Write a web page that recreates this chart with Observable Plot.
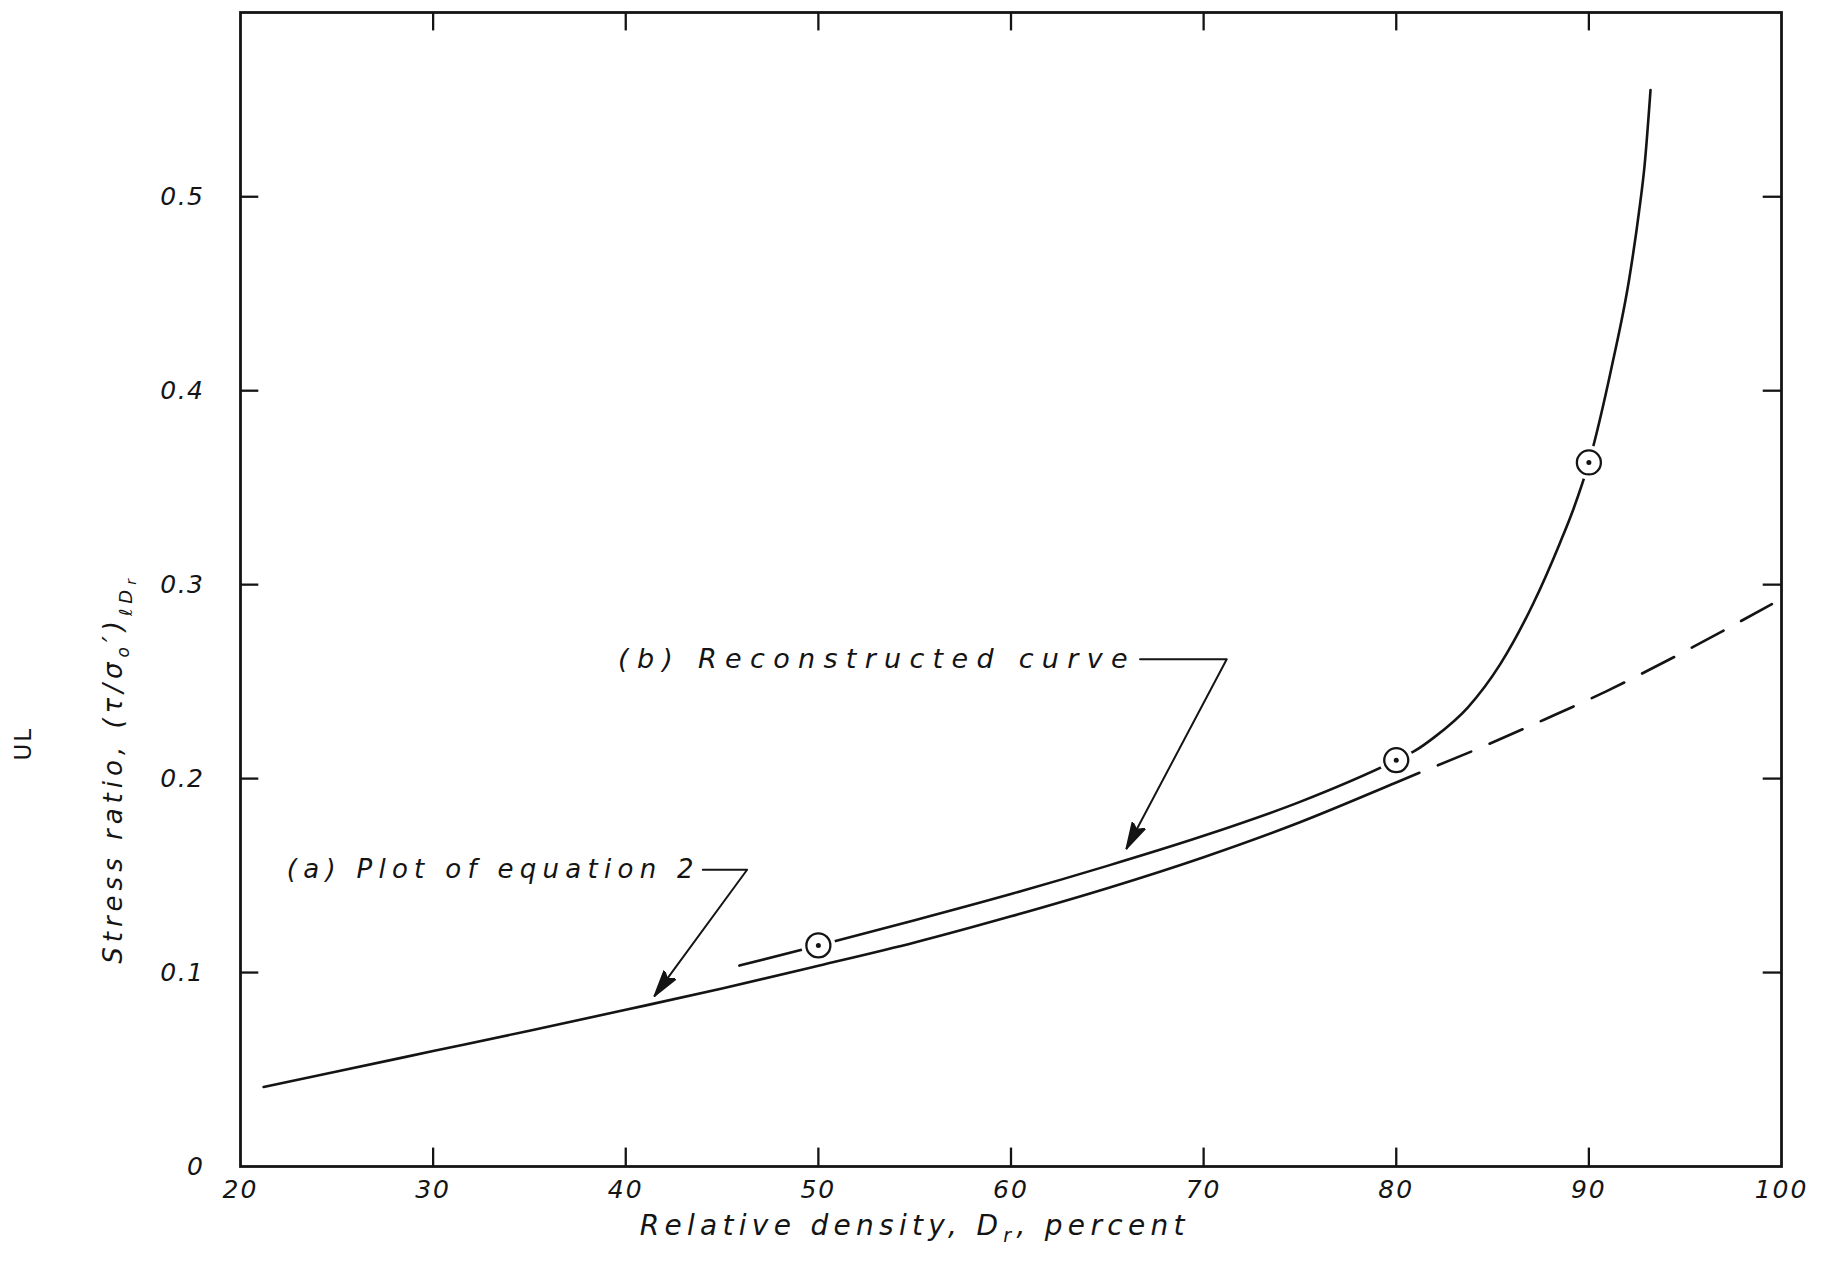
<!DOCTYPE html>
<html><head><meta charset="utf-8">
<script src="https://cdn.jsdelivr.net/npm/d3@7"></script>
<script src="https://cdn.jsdelivr.net/npm/@observablehq/plot@0.6"></script>
<style>
html,body{margin:0;padding:0;background:#fff;}
#chart svg{display:block;}
</style></head><body><div id="chart"></div>
<script>
// ---- axes ----
const xTicks = [20, 30, 40, 50, 60, 70, 80, 90, 100];
const xTickLabels = ["20", "30", "40", "50", "60", "70", "80", "90", "100"];
const yTicks = [0, 0.1, 0.2, 0.3, 0.4, 0.5];
const yTickLabels = ["0", "0.1", "0.2", "0.3", "0.4", "0.5"];
const xDomain = [20, 100];
const yDomain = [0, 0.595];

// ---- (a) Plot of equation 2 : solid part and dashed extension ----
const drA = [21.2, 25, 30, 35, 40, 45, 50, 55, 60, 65, 70, 75, 80, 81.2];
const srA = [0.041, 0.049, 0.0595, 0.070, 0.0808, 0.0918, 0.1035, 0.1155, 0.129, 0.1435, 0.1595, 0.1775, 0.198, 0.203];
const drAExt = [81.2, 84.5, 87.7, 90.9, 94.0, 99.5];
const srAExt = [0.203, 0.2165, 0.2305, 0.245, 0.2605, 0.290];

// ---- (b) Reconstructed curve ----
const drB = [45.9, 50, 55, 60, 65, 70, 75, 80, 81, 82, 83.7, 85.4, 87.1, 88.5, 89.2, 90, 91.2, 92.1, 92.6, 92.9, 93.2];
const srB = [0.1036, 0.114, 0.127, 0.1405, 0.155, 0.1705, 0.188, 0.2095, 0.2145, 0.2215, 0.2365, 0.259, 0.290, 0.3215, 0.339, 0.363, 0.413, 0.458, 0.492, 0.517, 0.555];

// ---- test points (circled) ----
const ptDr = [50, 80, 90];
const ptSr = [0.114, 0.2095, 0.363];

// ---- annotations ----
const annoText = ["(b) Reconstructed curve", "(a) Plot of equation 2"];
const annoDr = [39.6, 22.4];
const annoSr = [0.2615, 0.153];
const leaderBDr = [66.7, 71.2, 66.0];
const leaderBSr = [0.2615, 0.2615, 0.164];
const leaderADr = [44.0, 46.3, 41.5];
const leaderASr = [0.153, 0.153, 0.088];

const xTitle = "Relative density, Dr, percent";
const yTitle = "Stress ratio, (τ/σo′)ℓDr";
const sideNote = "UL";

// ---- build tables ----
const toRows = (xs, ys) => xs.map((x, i) => ({x, y: ys[i]}));
const curveA = toRows(drA, srA);
const curveAExt = toRows(drAExt, srAExt);
const curveB = toRows(drB, srB);
const points = toRows(ptDr, ptSr);
const annos = annoText.map((t, i) => ({t, x: annoDr[i], y: annoSr[i]}));
const leaderB = toRows(leaderBDr, leaderBSr);
const leaderA = toRows(leaderADr, leaderASr);

const ink = "#141414";
const tickLenX = 0.95;   // in Dr units
const tickLenY = 0.0095; // in stress-ratio units

function arrowFill(color, context) {
  const doc = (context && context.document) || document;
  const svgns = "http://www.w3.org/2000/svg";
  const m = doc.createElementNS(svgns, "marker");
  m.setAttribute("viewBox", "-26 -8 28 16");
  m.setAttribute("markerUnits", "userSpaceOnUse");
  m.setAttribute("markerWidth", 28);
  m.setAttribute("markerHeight", 16);
  m.setAttribute("refX", 0);
  m.setAttribute("refY", 0);
  m.setAttribute("orient", "auto");
  const p = doc.createElementNS(svgns, "path");
  p.setAttribute("d", "M0,0L-26,-7L-21,0L-26,7Z");
  p.setAttribute("fill", color);
  m.appendChild(p);
  return m;
}

const font = "DejaVu Sans";

const chart = Plot.plot({
  width: 1828,
  height: 1277,
  marginLeft: 240,
  marginRight: 47,
  marginTop: 12,
  marginBottom: 111,
  x: {domain: xDomain, axis: null},
  y: {domain: yDomain, axis: null},
  style: {fontFamily: font, fontStyle: "oblique", color: ink, background: "white"},
  marks: [
    // inward ticks
    Plot.ruleX(xTicks.slice(1, -1), {y1: yDomain[0], y2: yDomain[0] + tickLenY, stroke: ink, strokeWidth: 2.3}),
    Plot.ruleX(xTicks.slice(1, -1), {y1: yDomain[1] - tickLenY, y2: yDomain[1], stroke: ink, strokeWidth: 2.3}),
    Plot.ruleY(yTicks.slice(1), {x1: xDomain[0], x2: xDomain[0] + tickLenX, stroke: ink, strokeWidth: 2.3}),
    Plot.ruleY(yTicks.slice(1), {x1: xDomain[1] - tickLenX, x2: xDomain[1], stroke: ink, strokeWidth: 2.3}),
    Plot.frame({stroke: ink, strokeWidth: 2.8}),
    Plot.axisX({ticks: xTicks, tickFormat: d => xTickLabels[xTicks.indexOf(d)], tickSize: 0, tickPadding: 14, fontSize: 25, label: null}),
    Plot.axisY({ticks: yTicks, tickFormat: d => yTickLabels[yTicks.indexOf(d)], tickSize: 0, tickPadding: 36, fontSize: 25, label: null}),

    // curves
    Plot.line(curveA, {x: "x", y: "y", curve: "monotone-x", stroke: ink, strokeWidth: 2.6}),
    Plot.line(curveAExt, {x: "x", y: "y", curve: "monotone-x", stroke: ink, strokeWidth: 2.6, strokeDasharray: "36,20", strokeDashoffset: 36}),
    Plot.line(curveB, {x: "x", y: "y", curve: "monotone-x", stroke: ink, strokeWidth: 2.6}),

    // circled points
    Plot.dot(points, {x: "x", y: "y", r: 17, fill: "white", stroke: null}),
    Plot.dot(points, {x: "x", y: "y", r: 12, fill: "white", stroke: ink, strokeWidth: 2.3}),
    Plot.dot(points, {x: "x", y: "y", r: 2.5, fill: ink, stroke: null}),

    // annotation leaders
    Plot.line(leaderB, {x: "x", y: "y", stroke: ink, strokeWidth: 2, markerEnd: arrowFill}),
    Plot.line(leaderA, {x: "x", y: "y", stroke: ink, strokeWidth: 2, markerEnd: arrowFill}),

    // annotation texts
    Plot.text(annos.slice(0, 1), {x: "x", y: "y", text: "t", textAnchor: "start", fontSize: 27, fill: ink}),
    Plot.text(annos.slice(1), {x: "x", y: "y", text: "t", textAnchor: "start", fontSize: 26, fill: ink}),

    // axis titles
    Plot.text([xTitle], {x: [55], frameAnchor: "bottom", dy: 68, text: d => d, textAnchor: "middle", fontSize: 28, fill: ink}),
    Plot.text([yTitle], {y: [0.205], frameAnchor: "left", dx: -127, rotate: -90, text: d => d, textAnchor: "middle", lineAnchor: "middle", fontSize: 26, fill: ink}),
    Plot.text([sideNote], {y: [0.218], frameAnchor: "left", dx: -217, rotate: -90, text: d => d, textAnchor: "middle", lineAnchor: "middle", fontSize: 23, fontStyle: "normal", fill: ink})
  ]
});

document.getElementById("chart").appendChild(chart);

// ---- post-processing: hand-lettering spacing and subscripts ----
const allText = Array.from(chart.querySelectorAll("text"));
const findText = s => allText.find(t => t.textContent === s);
function spaceOut(el, px) { if (el) el.style.letterSpacing = px + "px"; }

chart.querySelectorAll('g[aria-label="x-axis tick label"] text').forEach(t => spaceOut(t, 2));
chart.querySelectorAll('g[aria-label="y-axis tick label"] text').forEach(t => spaceOut(t, 1.5));
spaceOut(findText(annoText[0]), 8.3);
spaceOut(findText(annoText[1]), 6.3);
spaceOut(findText(sideNote), 2);

const svgNS = "http://www.w3.org/2000/svg";
function rebuild(textEl, parts) {
  if (!textEl) return;
  textEl.textContent = "";
  for (const p of parts) {
    const ts = document.createElementNS(svgNS, "tspan");
    ts.textContent = p.t;
    if (p.size) ts.setAttribute("font-size", p.size);
    if (p.dy) ts.setAttribute("dy", p.dy);
    textEl.appendChild(ts);
  }
}
const xt = findText(xTitle);
spaceOut(xt, 5.3);
rebuild(xt, [
  {t: "Relative density, D"},
  {t: "r", size: 19, dy: 7},
  {t: ", percent", dy: -7}
]);
const yt = findText(yTitle);
spaceOut(yt, 5);
rebuild(yt, [
  {t: "Stress ratio, (τ/σ"},
  {t: "o", size: 17, dy: 7},
  {t: "′)", dy: -7},
  {t: "ℓD", size: 18, dy: 10},
  {t: "r", size: 14, dy: 4}
]);
</script>
</body></html>
